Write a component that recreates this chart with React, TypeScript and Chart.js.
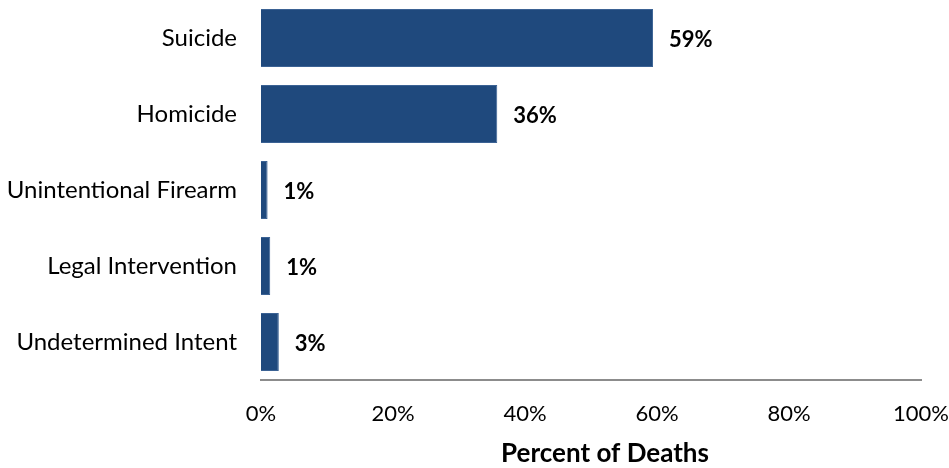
import React, { useEffect, useRef } from "react";
import { Chart, registerables } from "chart.js";

Chart.register(...registerables);

const categories = ["Suicide", "Homicide", "Unintentional Firearm", "Legal Intervention", "Undetermined Intent"];
const values = [59.4, 35.8, 1.0, 1.4, 2.7];
const valueLabels = ["59%", "36%", "1%", "1%", "3%"];
const xTicks = [0, 20, 40, 60, 80, 100];
const xTitle = "Percent of Deaths";

const FONT = "Lato, 'Open Sans', sans-serif";

const valueLabelPlugin = {
  id: "valueLabels",
  afterDatasetsDraw(chart: any) {
    const ctx = chart.ctx;
    const meta = chart.getDatasetMeta(0);
    ctx.save();
    ctx.font = `bold 22px ${FONT}`;
    ctx.fillStyle = "#000000";
    ctx.textAlign = "left";
    ctx.textBaseline = "middle";
    meta.data.forEach((bar: any, i: number) => {
      ctx.fillText(valueLabels[i], bar.x + 16, bar.y + 2);
    });
    // axis title, slightly right of centre as in the reference
    const ca = chart.chartArea;
    ctx.font = `bold 26px ${FONT}`;
    ctx.textAlign = "center";
    ctx.fillText(xTitle, (ca.left + ca.right) / 2 + 14, ca.bottom + 74);
    ctx.restore();
  },
};

function zeroPad(scale: any) {
  scale.paddingTop = 0;
  scale.paddingBottom = 0;
  scale.paddingLeft = 0;
  scale.paddingRight = 0;
}

export default function App() {
  const ref = useRef<HTMLCanvasElement>(null);
  useEffect(() => {
    document.body.style.margin = "0";
    const chart = new Chart(ref.current!, {
      type: "bar",
      data: {
        labels: categories,
        datasets: [
          {
            data: values,
            backgroundColor: "#1F497D",
            borderColor: "#3B6294",
            borderWidth: 1,
            barPercentage: 0.76,
            categoryPercentage: 1,
          },
        ],
      },
      options: {
        indexAxis: "y",
        animation: false,
        responsive: false,
        maintainAspectRatio: false,
        layout: { padding: { top: 0, right: 28, left: 0, bottom: 0 } },
        plugins: { legend: { display: false }, tooltip: { enabled: false } },
        scales: {
          x: {
            min: 0,
            max: 100,
            afterBuildTicks(scale: any) {
              scale.ticks = xTicks.map((v) => ({ value: v }));
            },
            afterFit(scale: any) {
              scale.height = 88;
              zeroPad(scale);
            },
            grid: { display: false, drawTicks: false },
            border: { display: true, color: "#8C8C8C", width: 2 },
            ticks: {
              callback: (v: any) => `${v}%`,
              color: "#000000",
              font: { family: FONT, size: 22 },
              padding: 21,
              maxRotation: 0,
            },
            title: { display: false },
          },
          y: {
            afterFit(scale: any) {
              scale.width = 261;
              zeroPad(scale);
            },
            grid: { display: false, drawTicks: false },
            border: { display: false },
            ticks: {
              color: "#000000",
              font: { family: FONT, size: 24 },
              padding: 24,
            },
          },
        },
      },
      plugins: [valueLabelPlugin],
    });
    return () => chart.destroy();
  }, []);
  return (
    <div style={{ width: 949, height: 468 }}>
      <canvas ref={ref} width={949} height={468} style={{ width: 949, height: 468 }} />
    </div>
  );
}
